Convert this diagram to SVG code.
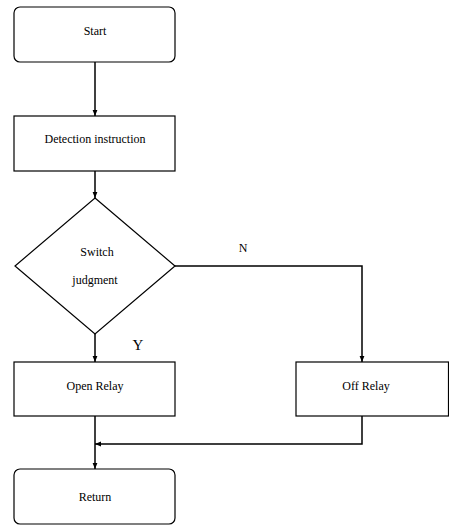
<svg xmlns="http://www.w3.org/2000/svg" width="449" height="526" viewBox="0 0 449 526">
<style>
.box{fill:#fff;stroke:#000;stroke-width:1.2}
.ln{fill:none;stroke:#000;stroke-width:1.5}
text{font-family:"Liberation Serif","Times New Roman",serif;font-size:12px;fill:#000;text-anchor:middle}
</style>
<defs>
<marker id="ah" viewBox="0 0 10 10" refX="10" refY="5" markerWidth="6" markerHeight="6" markerUnits="userSpaceOnUse" orient="auto">
<path d="M0,1 L10,5 L0,9 z" fill="#000"/>
</marker>
</defs>
<rect width="449" height="526" fill="#fff"/>
<g id="connectors">
<line class="ln" x1="95" y1="62" x2="95" y2="116" marker-end="url(#ah)"/>
<line class="ln" x1="95" y1="171" x2="95" y2="198" marker-end="url(#ah)"/>
<line class="ln" x1="95" y1="334" x2="95" y2="362" marker-end="url(#ah)"/>
<polyline class="ln" points="175,266 362,266 362,362" marker-end="url(#ah)"/>
<line class="ln" x1="95" y1="416" x2="95" y2="469" marker-end="url(#ah)"/>
<polyline class="ln" points="362,416 362,444 95,444" marker-end="url(#ah)"/>
</g>
<g id="start">
<rect class="box" x="14" y="7" width="161" height="55" rx="6"/>
<text x="95" y="35">Start</text>
</g>
<g id="detect">
<rect class="box" x="14" y="116" width="161" height="55"/>
<text x="95" y="143">Detection instruction</text>
</g>
<g id="judge">
<polygon class="box" points="95,198 175,266 95,334 15,266"/>
<text x="97" y="256">Switch</text>
<text x="95" y="284">judgment</text>
</g>
<g id="open">
<rect class="box" x="14" y="362" width="161" height="54"/>
<text x="95" y="390">Open Relay</text>
</g>
<g id="off">
<rect class="box" x="296" y="362" width="152.5" height="54"/>
<text x="366" y="390">Off Relay</text>
</g>
<g id="ret">
<rect class="box" x="14" y="469" width="161" height="55" rx="6"/>
<text x="95" y="501">Return</text>
</g>
<g id="labels">
<text x="243" y="252">N</text>
<text x="138" y="350" style="font-size:15px">Y</text>
</g>
</svg>
